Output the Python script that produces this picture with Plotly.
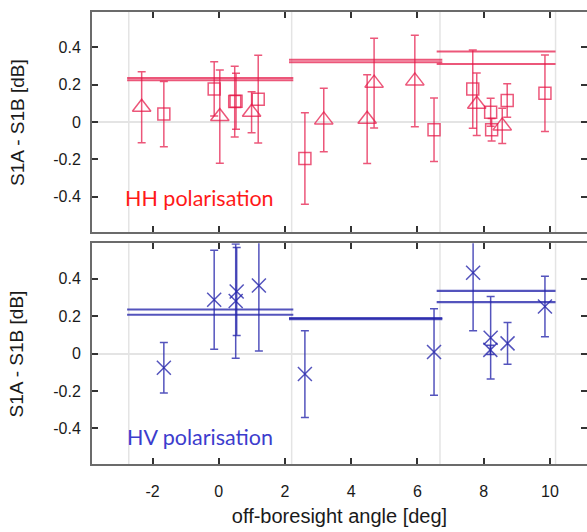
import plotly.graph_objects as go

# ---------------- data ----------------
# HH polarisation (top panel)
hh_tri_x = [-2.33, 0.03, 0.99, 3.17, 4.48, 4.69, 5.92, 7.79, 8.56]
hh_tri_y = [0.080, 0.030, 0.053, 0.012, 0.016, 0.209, 0.221, 0.096, -0.020]
hh_tri_err = [0.190, 0.250, 0.110, 0.170, 0.238, 0.240, 0.245, 0.167, 0.095]

hh_sq_x = [-1.66, -0.14, 0.48, 0.52, 1.19, 2.60, 6.50, 7.67, 8.21, 8.24, 8.71, 9.85]
hh_sq_y = [0.043, 0.178, 0.110, 0.112, 0.123, -0.195, -0.041, 0.177, 0.053, -0.041, 0.116, 0.155]
hh_sq_err = [0.175, 0.145, 0.190, 0.150, 0.235, 0.245, 0.170, 0.210, 0.075, 0.060, 0.090, 0.205]

# HV polarisation (bottom panel)
hv_x = [-1.66, -0.14, 0.51, 0.54, 1.21, 2.60, 6.50, 7.68, 8.21, 8.20, 8.72, 9.85]
hv_y = [-0.075, 0.288, 0.281, 0.332, 0.364, -0.109, 0.009, 0.432, 0.085, 0.020, 0.055, 0.252]
hv_err = [0.135, 0.265, 0.305, 0.235, 0.350, 0.232, 0.231, 0.310, 0.220, 0.025, 0.112, 0.162]

# segment mean lines
seg_lo = [-2.77, 2.12, 6.58]
seg_hi = [2.25, 6.75, 10.17]
hh_line_a = [0.237, 0.334, 0.378]
hh_line_b = [0.225, 0.321, 0.312]
hv_line_a = [0.236, 0.190, 0.336]
hv_line_b = [0.208, 0.185, 0.275]

grid_x = [-2.72, 2.20, 6.68, 10.17]

x_ticks = [-2, 0, 2, 4, 6, 8, 10]
x_tick_text = ["-2", "0", "2", "4", "6", "8", "10"]
y_ticks = [-0.4, -0.2, 0, 0.2, 0.4]
y_tick_text = ["-0.4", "-0.2", "0", "0.2", "0.4"]

# ---------------- style ----------------
RED = "rgba(228,22,70,0.72)"
BLUE = "rgba(36,36,170,0.78)"
RED_TXT = "rgb(255,25,25)"
BLUE_TXT = "rgb(60,60,205)"
AX = "#6b6b6b"
GRID = "#e4e4e4"

fig = go.Figure()


def seg_xy(lo, hi, vals):
    xs, ys = [], []
    for a, b, v in zip(lo, hi, vals):
        xs += [a, b, None]
        ys += [v, v, None]
    return xs, ys


for vals in (hh_line_a, hh_line_b):
    xs, ys = seg_xy(seg_lo, seg_hi, vals)
    fig.add_trace(go.Scatter(x=xs, y=ys, mode="lines", line=dict(color=RED, width=2),
                             xaxis="x", yaxis="y", showlegend=False, hoverinfo="skip"))
for vals in (hv_line_a, hv_line_b):
    xs, ys = seg_xy(seg_lo, seg_hi, vals)
    fig.add_trace(go.Scatter(x=xs, y=ys, mode="lines", line=dict(color=BLUE, width=2.2),
                             xaxis="x2", yaxis="y2", showlegend=False, hoverinfo="skip"))

eb_red = dict(type="data", thickness=1.5, width=4, color=RED)
fig.add_trace(go.Scatter(x=hh_tri_x, y=hh_tri_y, mode="markers",
                         error_y=dict(array=hh_tri_err, **eb_red),
                         marker=dict(symbol="triangle-up-open", size=16, color=RED,
                                     line=dict(width=1.5, color=RED)),
                         xaxis="x", yaxis="y", showlegend=False))
fig.add_trace(go.Scatter(x=hh_sq_x, y=hh_sq_y, mode="markers",
                         error_y=dict(array=hh_sq_err, **eb_red),
                         marker=dict(symbol="square-open", size=12, color=RED,
                                     line=dict(width=1.5, color=RED)),
                         xaxis="x", yaxis="y", showlegend=False))
fig.add_trace(go.Scatter(x=hv_x, y=hv_y, mode="markers",
                         error_y=dict(array=hv_err, type="data", thickness=1.5, width=4, color=BLUE),
                         marker=dict(symbol="x-thin-open", size=14, color=BLUE,
                                     line=dict(width=1.5, color=BLUE)),
                         xaxis="x2", yaxis="y2", showlegend=False))

# vertical light grid lines at segment boundaries
for gx in grid_x:
    for yr, xr in (("y domain", "x"), ("y2 domain", "x2")):
        fig.add_shape(type="line", xref=xr, yref=yr, x0=gx, x1=gx, y0=0, y1=1,
                      line=dict(color=GRID, width=1.5), layer="below")

XR = [-3.83, 11.12]
YR = [-0.59, 0.59]
TICKFONT = dict(family="Liberation Sans, Arial, sans-serif", size=16, color="#1a1a1a")

xcommon = dict(range=XR, tickvals=x_ticks, ticktext=x_tick_text, showgrid=False, zeroline=False,
               showline=True, linecolor=AX, linewidth=2, mirror="ticks", ticks="inside", ticklen=6,
               tickwidth=1.5, tickcolor="#333", tickfont=TICKFONT)
ycommon = dict(range=YR, tickvals=y_ticks, ticktext=y_tick_text, showgrid=False,
               zeroline=True, zerolinecolor=GRID, zerolinewidth=1.5, showline=True,
               linecolor=AX, linewidth=2, mirror=False, ticks="inside", ticklen=6,
               tickwidth=1.5, tickcolor="#333", tickfont=TICKFONT, ticklabelstandoff=6)
# right-side tick marks only (the right frame edge lies outside the picture)
yright = dict(range=YR, tickvals=y_ticks, showgrid=False, zeroline=False, showline=False,
              side="right", ticks="inside", ticklen=6, tickwidth=1.5, tickcolor="#333",
              showticklabels=False)

D_TOP = [0.5126, 1.0]
D_BOT = [0.0, 0.4883]

fig.update_layout(
    width=587, height=532,
    margin=dict(l=92, r=0, t=12, b=68),
    paper_bgcolor="white", plot_bgcolor="white",
    xaxis=dict(anchor="y", showticklabels=False, **xcommon),
    xaxis2=dict(anchor="y2", matches="x", showticklabels=True, ticklabelstandoff=12,
                title=dict(text="off-boresight angle [deg]", standoff=10,
                           font=dict(family="Liberation Sans, Arial, sans-serif", size=20, color="#1a1a1a")),
                **xcommon),
    yaxis=dict(domain=D_TOP, anchor="x", **ycommon),
    yaxis2=dict(domain=D_BOT, anchor="x2", **ycommon),
    yaxis3=dict(domain=D_TOP, anchor="x", overlaying="y", **yright),
    yaxis4=dict(domain=D_BOT, anchor="x2", overlaying="y2", **yright),
    showlegend=False,
)

# invisible traces so the right-hand tick axes are drawn
fig.add_trace(go.Scatter(x=[None], y=[None], xaxis="x", yaxis="y3", showlegend=False, hoverinfo="skip"))
fig.add_trace(go.Scatter(x=[None], y=[None], xaxis="x2", yaxis="y4", showlegend=False, hoverinfo="skip"))

TITLEFONT = dict(family="Liberation Sans, Arial, sans-serif", size=19, color="#1a1a1a")
for yr in ("y domain", "y2 domain"):
    fig.add_annotation(text="S1A - S1B [dB]", textangle=-90, xref="paper", yref=yr,
                       x=-0.152, y=0.5, xanchor="center", yanchor="middle",
                       showarrow=False, font=TITLEFONT)

fig.add_annotation(text="HH polarisation", xref="x", yref="y", x=-2.90, y=-0.406,
                   xanchor="left", yanchor="middle", showarrow=False,
                   font=dict(family="Lato, Open Sans, sans-serif", size=21.5, color=RED_TXT))
fig.add_annotation(text="HV polarisation", xref="x2", yref="y2", x=-2.83, y=-0.445,
                   xanchor="left", yanchor="middle", showarrow=False,
                   font=dict(family="Lato, Open Sans, sans-serif", size=21.5, color=BLUE_TXT))

fig.write_html("out.html")
